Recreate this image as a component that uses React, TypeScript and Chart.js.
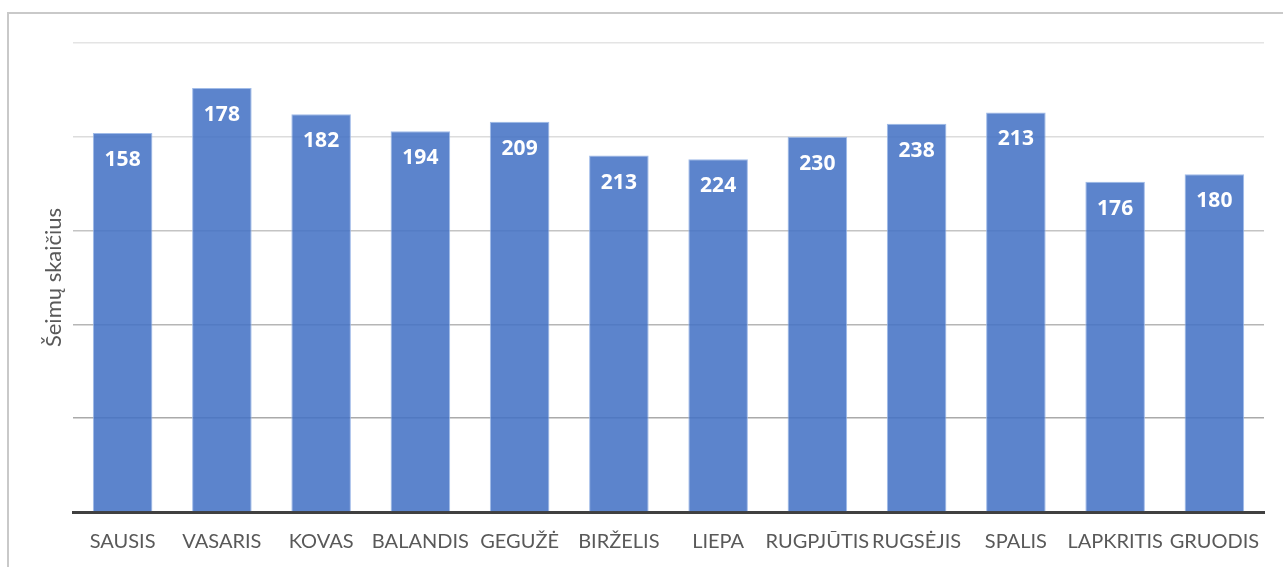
import { useEffect, useRef } from "react";
import { Chart, registerables } from "chart.js";

Chart.register(...registerables);

const categories = [
  "SAUSIS",
  "VASARIS",
  "KOVAS",
  "BALANDIS",
  "GEGUŽĖ",
  "BIRŽELIS",
  "LIEPA",
  "RUGPJŪTIS",
  "RUGSĖJIS",
  "SPALIS",
  "LAPKRITIS",
  "GRUODIS",
];

// bar heights as drawn in the picture
const barHeights = [202, 226, 212, 203, 208, 190, 188, 200, 207, 213, 176, 180];

// numbers printed on the bars
const valueLabels = [158, 178, 182, 194, 209, 213, 224, 230, 238, 213, 176, 180];

const yMin = 0;
const yMax = 250;
const yStep = 50;

const axisTitle = "Šeimų skaičius";

const gridColorFor = (v: number): string => {
  if (v >= 250) return "#e4e4e4";
  if (v >= 200) return "#dcdcdc";
  if (v >= 150) return "#c4c4c4";
  if (v >= 100) return "#b6b6b6";
  return "#aaaaaa";
};

const barLabelPlugin = {
  id: "barLabels",
  afterDatasetsDraw(chart: any) {
    const ctx = chart.ctx;
    const meta = chart.getDatasetMeta(0);
    ctx.save();
    ctx.fillStyle = "#ffffff";
    ctx.font = "bold 21px 'Open Sans'";
    ctx.textAlign = "center";
    ctx.textBaseline = "middle";
    meta.data.forEach((el: any, i: number) => {
      ctx.fillText(String(valueLabels[i]), el.x, el.y + 27);
    });
    ctx.restore();
  },
};

export default function App() {
  const canvasRef = useRef<HTMLCanvasElement | null>(null);

  useEffect(() => {
    if (!canvasRef.current) return;
    const chart = new Chart(canvasRef.current, {
      type: "bar",
      data: {
        labels: categories,
        datasets: [
          {
            data: barHeights,
            backgroundColor: "rgba(68,114,196,0.87)",
            borderColor: "rgba(150,180,230,0.9)",
            borderWidth: 1,
            barPercentage: 0.6,
            categoryPercentage: 1,
          },
        ],
      },
      options: {
        animation: false,
        responsive: false,
        devicePixelRatio: 1,
        layout: { padding: { top: 43, right: 19, left: 0, bottom: 0 } },
        plugins: {
          legend: { display: false },
          tooltip: { enabled: false },
          title: { display: false },
        },
        scales: {
          x: {
            z: 1,
            grid: { display: false, drawTicks: false },
            border: { display: true, color: "#404040", width: 3 },
            ticks: {
              color: "#595959",
              font: { family: "Lato", size: 20 },
              padding: 18,
              maxRotation: 0,
              autoSkip: false,
            },
            afterFit: (s: any) => {
              s.height = 55;
            },
          },
          y: {
            min: yMin,
            max: yMax,
            ticks: { display: false, stepSize: yStep },
            grid: {
              drawTicks: false,
              lineWidth: 1.5,
              color: (c: any) => gridColorFor(c.tick ? c.tick.value : 0),
            },
            border: { display: false },
            title: {
              display: true,
              text: axisTitle,
              color: "#595959",
              font: { family: "Lato", size: 22 },
              padding: { top: 41, bottom: 0 },
            },
            afterFit: (s: any) => {
              s.width = 73;
            },
          },
        },
      },
      plugins: [barLabelPlugin],
    });
    return () => chart.destroy();
  }, []);

  return (
    <div
      style={{
        position: "fixed",
        left: 0,
        top: 0,
        width: 1283,
        height: 567,
        overflow: "hidden",
        background: "#ffffff",
      }}
    >
      <div
        style={{
          position: "absolute",
          left: 7,
          top: 12,
          width: 1400,
          height: 700,
          border: "2px solid #c9c9c9",
        }}
      />
      <canvas
        ref={canvasRef}
        width={1283}
        height={567}
        style={{ position: "absolute", left: 0, top: 0, width: 1283, height: 567 }}
      />
    </div>
  );
}
